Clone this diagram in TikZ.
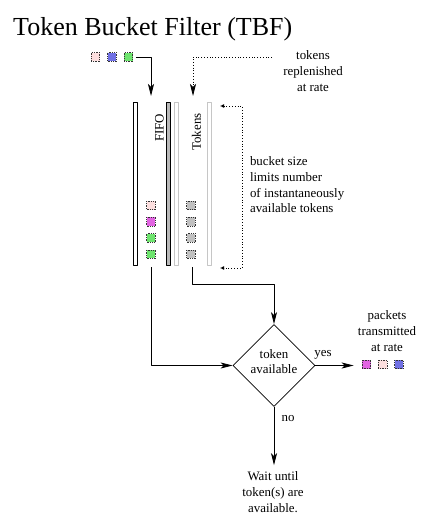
\documentclass[tikz,border=0pt]{standalone}
\usepackage{fontspec}
\setmainfont{Liberation Serif}
\usetikzlibrary{arrows.meta,shapes.geometric,positioning}
\definecolor{pktpink}{RGB}{252,222,222}
\definecolor{pktmag}{RGB}{226,100,226}
\definecolor{pktgreen}{RGB}{110,228,110}
\definecolor{pktblue}{RGB}{112,112,228}
\definecolor{tokgray}{RGB}{192,192,192}
\begin{document}
\begin{tikzpicture}[x=1pt,y=-1pt,>={Stealth[length=12pt,width=6pt,inset=3pt]},
	font=\fontsize{12.9}{15.7}\selectfont, line join=round,
	pkt/.style={draw=black!80,densely dotted,line width=0.7pt,minimum size=8.5pt,inner sep=0pt},
	bar/.style={draw,line width=0.8pt,inner sep=0pt,minimum width=4pt,minimum height=163pt,fill=white},
	flow/.style={->,line width=0.8pt},
	rate/.style={->,dotted,line width=0.8pt},
	bucketline/.style={<->,>={Latex[open,length=4pt,width=4pt]},dotted,line width=0.8pt}]
	\useasboundingbox (0,0) rectangle (442,524);
	\node[anchor=base west,inner sep=0pt,font=\fontsize{26}{30}\selectfont] (title) at (13,36) {Token Bucket Filter (TBF)};
	% packets coming in
	\foreach \c [count=\i] in {pktpink,pktblue,pktgreen}
	\node[pkt,fill=\c] (in\i) at (79+16.5*\i,57) {};
	% FIFO and token bucket
	\node[bar] (fifoL) at (135.3,183.5) {};
	\node[bar,fill=gray!55] (fifoR) at (168.2,183.5) {};
	\node[bar,draw=gray!45] (tokL) at (176.8,183.5) {};
	\node[bar,draw=gray!45] (tokR) at (209.7,183.5) {};
	\node[rotate=90] (fifolbl) at (159.5,128) {FIFO};
	\node[rotate=90] (toklbl) at (196.5,132) {Tokens};
	\foreach \c [count=\i] in {pktpink,pktmag,pktgreen,pktgreen}
	\node[pkt,fill=\c] (q\i) at (151,189.3+16.2*\i) {};
	\foreach \i in {1,...,4}
	\node[pkt,fill=tokgray] (t\i) at (191,189.3+16.2*\i) {};
	\coordinate (fifoin) at (151,96);
	\coordinate (tokin) at (193,96);
	\coordinate (replsrc) at (272,57);
	\draw[flow,shorten <=3pt] (in3.east) -| (fifoin);
	\draw[rate] (replsrc) -| (tokin);
	\node[align=center] (repl) at (313,71) {tokens\\replenished\\at rate};
	% bucket size
	\coordinate (captop) at (220,106);
	\coordinate (capbot) at (220,268);
	\coordinate (bkmid) at (242,187);
	\draw[bucketline] (captop) -| (bkmid) |- (capbot);
	\node[align=left,anchor=west] (bkt) at (246.5,185) {bucket size\\limits number\\of instantaneously\\available tokens};
	% decision
	\node[diamond,draw,line width=0.8pt,minimum width=82pt,minimum height=82pt,inner sep=0pt,
		text depth=8pt,align=center] (check) at (274,365.5) {token\\available};
	\coordinate (fifoout) at (151,267);
	\coordinate (tokout) at (192,267);
	\coordinate (tokbend) at (192,284);
	\draw[flow] (fifoout) |- (check.west);
	\draw[flow] (tokout) -- (tokbend) -| (check.north);
	\foreach \c [count=\i] in {pktmag,pktpink,pktblue}
	\node[pkt,fill=\c] (out\i) at (350+16.3*\i,364.5) {};
	\draw[flow,shorten >=8pt] (check.east) -- (check.east -| out1.west);
	\node (yes) at (323,354.5) {yes};
	\node[align=center] (sent) at (387,331) {packets\\transmitted\\at rate};
	\node[align=center] (wait) at (273,492) {Wait until\\token(s) are\\available.};
	\draw[flow,shorten >=3pt] (check.south) -- (check.south |- wait.north);
	\node (no) at (288,419) {no};
\end{tikzpicture}
\end{document}
